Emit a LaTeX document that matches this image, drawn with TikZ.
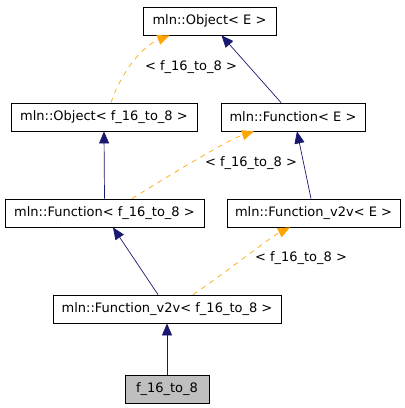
\documentclass[tikz,border=0pt]{standalone}
\usepackage{fontspec}
\setmainfont{DejaVu Sans}
\usetikzlibrary{arrows.meta, positioning}
\definecolor{edgenavy}{RGB}{25, 25, 112}
\definecolor{edgeorange}{RGB}{255, 165, 0}
\definecolor{leafgray}{RGB}{191, 191, 191}

\tikzset{
  classbox/.style={draw=black, fill=white, line width=0.8pt, minimum height=28pt, inner sep=0pt, font=\fontsize{13}{15}\selectfont},
  inherit/.style={draw=edgenavy, line width=0.7pt, -{Triangle[length=12pt, width=10pt, fill=edgenavy]}},
  templ/.style={draw=edgeorange, line width=0.7pt, dash pattern=on 5pt off 5pt, -{Triangle[length=12pt, width=10pt, fill=edgeorange]}},
  templlabel/.style={inner sep=0pt, font=\fontsize{13}{15}\selectfont}
}

\begin{document}
\begin{tikzpicture}[x=1pt, y=-1pt]
  \useasboundingbox (0,0) rectangle (405,408);

  % classes
  \node[classbox, minimum width=133pt] (objE) at (209.5,21) {mln::Object< E >};
  \node[classbox, minimum width=186pt] (objF) at (104,117) {mln::Object< f\_16\_to\_8 >};
  \node[classbox, minimum width=144pt] (funE) at (293,117) {mln::Function< E >};
  \node[classbox, minimum width=199pt] (funF) at (104.5,213) {mln::Function< f\_16\_to\_8 >};
  \node[classbox, minimum width=173pt] (vvE) at (313.5,213) {mln::Function\_v2v< E >};
  \node[classbox, minimum width=228pt] (vvF) at (167,309) {mln::Function\_v2v< f\_16\_to\_8 >};
  \node[classbox, fill=leafgray, minimum width=84pt] (leaf) at (167,389) {f\_16\_to\_8};

  % template labels
  \node[templlabel] (lblObj) at (191,67) {< f\_16\_to\_8 >};
  \node[templlabel] (lblFun) at (251,163) {< f\_16\_to\_8 >};
  \node[templlabel] (lblVv) at (301,258) {< f\_16\_to\_8 >};

  % inheritance
  \draw[inherit] ([xshift=-12pt]funE.north) -- ([xshift=12pt]objE.south);
  \draw[inherit] (funF.north) -- (objF.south);
  \draw[inherit] ([xshift=-2.5pt]vvE.north) -- ([xshift=4pt]funE.south);
  \draw[inherit] ([xshift=-9pt]vvF.north) -- ([xshift=8.5pt]funF.south);
  \draw[inherit] (leaf.north) -- (vvF.south);

  % template instances
  \draw[templ] ([xshift=7pt]objF.north) .. controls +(8,-25) and +(-30,12) .. ([xshift=-40pt]objE.south);
  \draw[templ] ([xshift=27.5pt]funF.north) .. controls +(40,-25) and +(-25,8) .. ([xshift=-39pt]funE.south);
  \draw[templ] ([xshift=26pt]vvF.north) .. controls +(30,-20) and +(-20,10) .. ([xshift=-23.5pt]vvE.south);
\end{tikzpicture}
\end{document}
